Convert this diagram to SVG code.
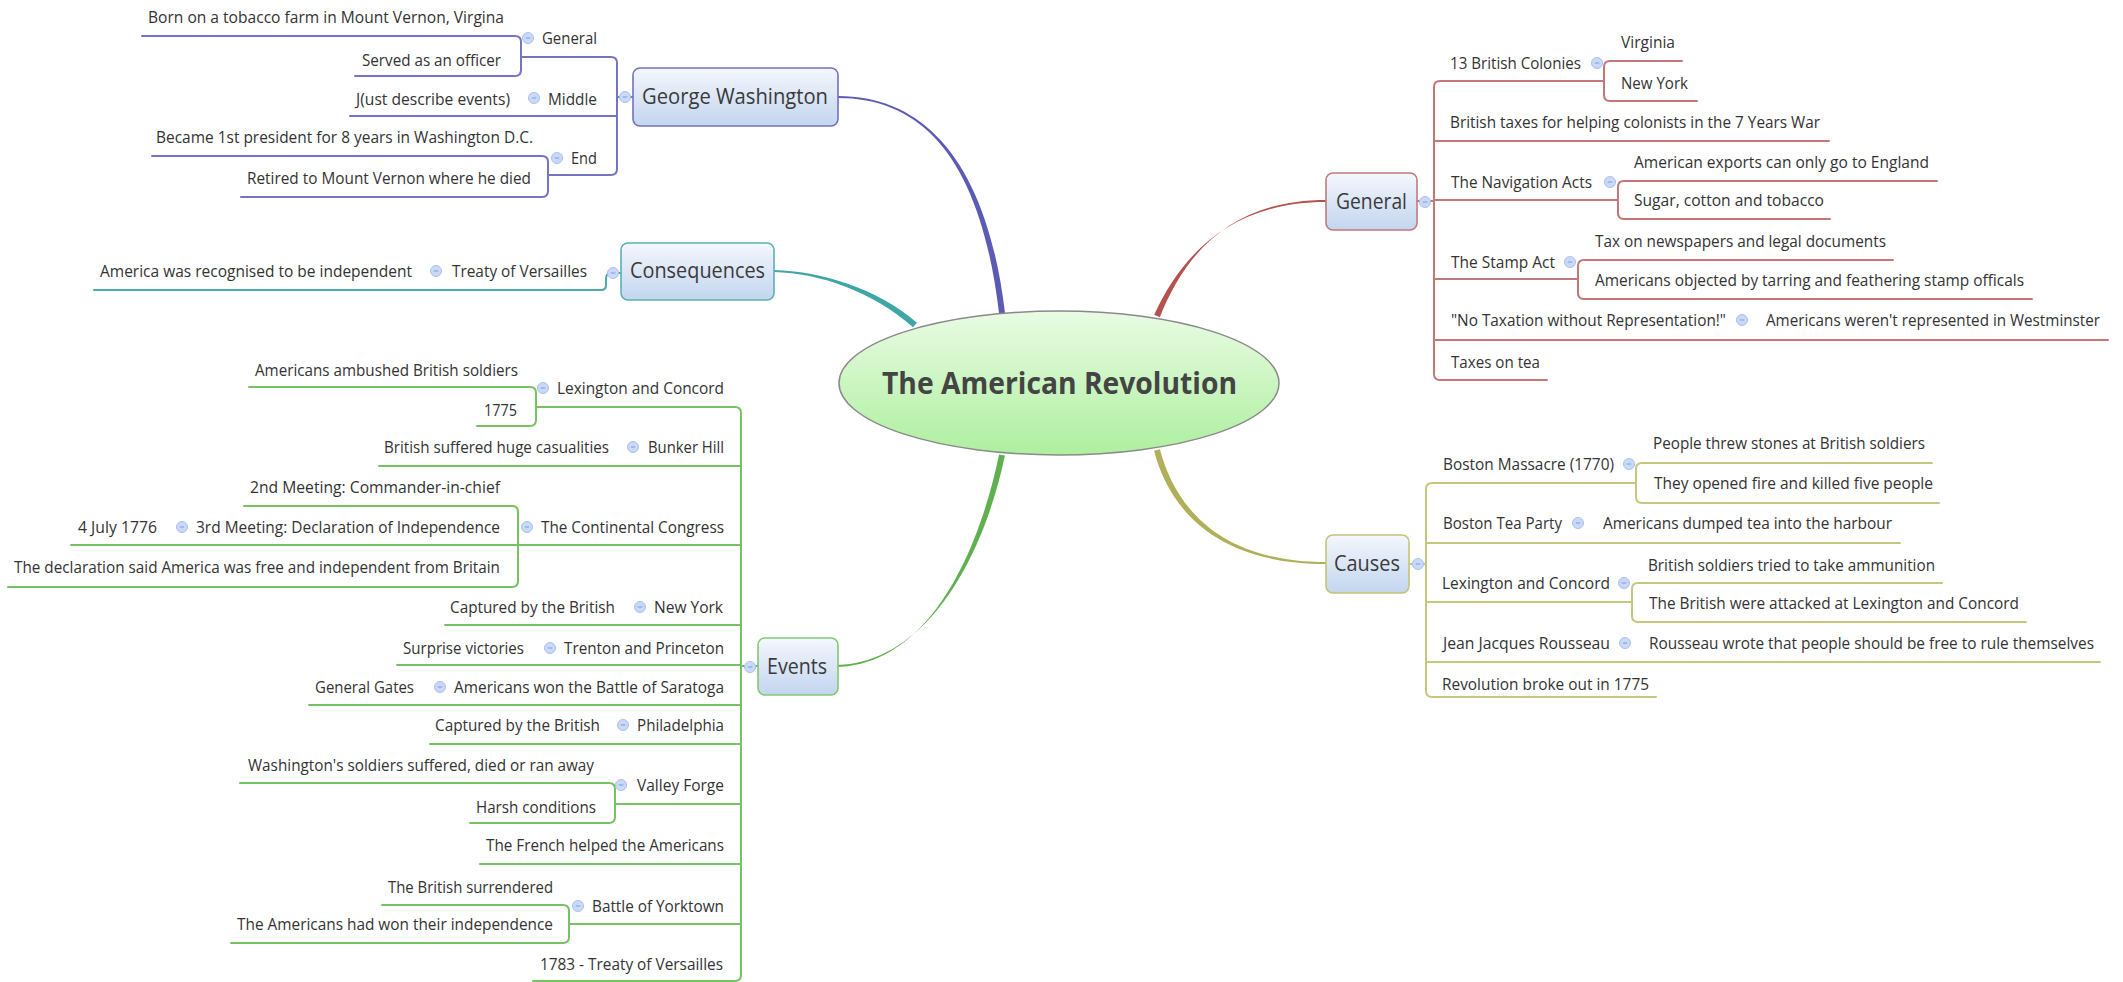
<svg xmlns="http://www.w3.org/2000/svg" width="2123" height="982" viewBox="0 0 2123 982">
<defs>
  <linearGradient id="boxFill" x1="0" y1="0" x2="0" y2="1">
    <stop offset="0" stop-color="#f4f7fd"/>
    <stop offset="1" stop-color="#c3d5ef"/>
  </linearGradient>
  <linearGradient id="rootFill" x1="0" y1="0" x2="0" y2="1">
    <stop offset="0" stop-color="#e9fbe4"/>
    <stop offset="1" stop-color="#aeef9f"/>
  </linearGradient>
  <style>
    .t{font-family:"Open Sans","Liberation Sans",sans-serif;font-size:15.5px;fill:#333}
    .bl{font-family:"Open Sans","Liberation Sans",sans-serif;font-size:21px;fill:#3a3a3a}
    .root{font-family:"Open Sans","Liberation Sans",sans-serif;font-size:31px;font-weight:bold;fill:#444}
    .box{fill:url(#boxFill);stroke-width:1.6}
    .c{fill:#c9d9f7;stroke:#a9c1ee;stroke-width:1}
    .cm{stroke:#8aa6da;stroke-width:1.2}
    .ln{fill:none;stroke-width:2;stroke-linecap:round;stroke-linejoin:round}
    .pu{stroke:#7474c2}
    .tl{stroke:#4aabab}
    .gr{stroke:#76c263}
    .rd{stroke:#c47777}
    .ol{stroke:#c6c67e}
  </style>
  <g id="fold">
    <circle class="c" r="5.5"/>
    <line class="cm" x1="-2.2" y1="0" x2="2.2" y2="0"/>
  </g>
</defs>
<rect width="2123" height="982" fill="#ffffff"/>

<!-- branch lines and curves -->
<g id="connectors">
  <!-- main curves from the central topic -->
  <path d="M838,96 C930,96 988,170 1005,313 L999,313 C982,170 930,98 838,98 Z" fill="#5b5bb5"/>
  <path d="M774,270 C820,271 877,288 917,322.8 L913,327.2 C873,292 820,273 774,272 Z" fill="#3fa6a6"/>
  <path d="M834,665 C925,665 983,560 1004.9,455.6 L999.1,454.4 C977,560 925,667 834,667 Z" fill="#5fb04e"/>
  <path d="M1326,200 C1235,200 1187,249 1159.8,317.2 L1154.2,314.8 C1183,251 1235,202 1326,202 Z" fill="#b5524f"/>
  <path d="M1159.9,449.2 C1173,499 1212,562 1326,562 L1326,564 C1208,564 1167,501 1154.1,450.8 Z" fill="#b0b05a"/>

  <!-- George Washington -->
  <g class="ln pu">
    <path d="M633,97 H617"/>
    <path d="M521,57 H611 Q617,57 617,63 V169 Q617,175 611,175 H548"/>
    <path d="M350,116 H617"/>
    <path d="M142,36 H515 Q521,36 521,42 V70 Q521,76 515,76 H355"/>
    <path d="M152,156 H542 Q548,156 548,162 V191 Q548,197 542,197 H241"/>
  </g>

  <!-- Consequences -->
  <g class="ln tl">
    <path d="M94,290 H601 Q606,290 606,285 V279 Q606,273 611,273 H621"/>
  </g>

  <!-- Events -->
  <g class="ln gr">
    <path d="M758,666 H741"/>
    <path d="M536,407 H735 Q741,407 741,413 V975 Q741,981 735,981 H533"/>
    <path d="M249,387 H530 Q536,387 536,393 V420 Q536,426 530,426 H477"/>
    <path d="M379,466 H741"/>
    <path d="M244,506 H512 Q518,506 518,512 V581 Q518,587 512,587 H8"/>
    <path d="M71,545 H741"/>
    <path d="M445,625 H741"/>
    <path d="M397,665 H741"/>
    <path d="M309,705 H741"/>
    <path d="M430,744 H741"/>
    <path d="M615,804 H741"/>
    <path d="M240,783 H609 Q615,783 615,789 V817 Q615,823 609,823 H470"/>
    <path d="M480,864 H741"/>
    <path d="M569,924 H741"/>
    <path d="M382,905 H563 Q569,905 569,911 V937 Q569,943 563,943 H231"/>
  </g>

  <!-- General -->
  <g class="ln rd">
    <path d="M1417,201 H1434"/>
    <path d="M1604,81 H1440 Q1434,81 1434,87 V374 Q1434,380 1440,380 H1547"/>
    <path d="M1682,61 H1610 Q1604,61 1604,67 V95 Q1604,101 1610,101 H1697"/>
    <path d="M1434,141 H1829"/>
    <path d="M1434,200 H1618"/>
    <path d="M1937,181 H1624 Q1618,181 1618,187 V213 Q1618,219 1624,219 H1830"/>
    <path d="M1434,279 H1578"/>
    <path d="M1893,260 H1584 Q1578,260 1578,266 V293 Q1578,299 1584,299 H2032"/>
    <path d="M1434,340 H2108"/>
  </g>

  <!-- Causes -->
  <g class="ln ol">
    <path d="M1409,564 H1426"/>
    <path d="M1636,483 H1432 Q1426,483 1426,489 V691 Q1426,697 1432,697 H1656"/>
    <path d="M1932,463 H1642 Q1636,463 1636,469 V497 Q1636,503 1642,503 H1939"/>
    <path d="M1426,543 H1900"/>
    <path d="M1426,602 H1632"/>
    <path d="M1942,583 H1638 Q1632,583 1632,589 V616 Q1632,622 1638,622 H2026"/>
    <path d="M1426,662 H2100"/>
  </g>
</g>

<!-- central topic -->
<g id="root">
  <ellipse cx="1059" cy="383" rx="220" ry="72" fill="url(#rootFill)" stroke="#8a8a8a" stroke-width="1.5"/>
  <text class="root" x="882" y="394" textLength="355" lengthAdjust="spacingAndGlyphs">The American Revolution</text>
</g>

<!-- George Washington branch -->
<g id="george-washington">
  <rect class="box" x="633" y="68" width="205" height="58" rx="7" stroke="#7272c0"/>
  <text class="bl" x="642" y="104" textLength="186" lengthAdjust="spacingAndGlyphs">George Washington</text>
  <use href="#fold" x="625" y="97"/>
</g>
<g id="gw-general">
  <text class="t" x="542" y="44" textLength="55" lengthAdjust="spacingAndGlyphs">General</text>
  <use href="#fold" x="528" y="38"/>
</g>
<g id="gw-born"><text class="t" x="148" y="23" textLength="356" lengthAdjust="spacingAndGlyphs">Born on a tobacco farm in Mount Vernon, Virgina</text></g>
<g id="gw-officer"><text class="t" x="362" y="66" textLength="139" lengthAdjust="spacingAndGlyphs">Served as an officer</text></g>
<g id="gw-middle">
  <text class="t" x="548" y="105" textLength="49" lengthAdjust="spacingAndGlyphs">Middle</text>
  <use href="#fold" x="534" y="98"/>
</g>
<g id="gw-events"><text class="t" x="356" y="105" textLength="154" lengthAdjust="spacingAndGlyphs">J(ust describe events)</text></g>
<g id="gw-end">
  <text class="t" x="571" y="164" textLength="26" lengthAdjust="spacingAndGlyphs">End</text>
  <use href="#fold" x="557" y="158"/>
</g>
<g id="gw-president"><text class="t" x="156" y="143" textLength="377" lengthAdjust="spacingAndGlyphs">Became 1st president for 8 years in Washington D.C.</text></g>
<g id="gw-retired"><text class="t" x="247" y="184" textLength="284" lengthAdjust="spacingAndGlyphs">Retired to Mount Vernon where he died</text></g>

<!-- Consequences branch -->
<g id="consequences">
  <rect class="box" x="621" y="243" width="153" height="57" rx="7" stroke="#5cb1b1"/>
  <text class="bl" x="630" y="278" textLength="135" lengthAdjust="spacingAndGlyphs">Consequences</text>
  <use href="#fold" x="613" y="273"/>
</g>
<g id="cons-treaty">
  <text class="t" x="452" y="277" textLength="135" lengthAdjust="spacingAndGlyphs">Treaty of Versailles</text>
  <use href="#fold" x="436" y="271"/>
</g>
<g id="cons-independent"><text class="t" x="100" y="277" textLength="312" lengthAdjust="spacingAndGlyphs">America was recognised to be independent</text></g>

<!-- Events branch -->
<g id="events">
  <rect class="box" x="758" y="638" width="80" height="57" rx="7" stroke="#82c972"/>
  <text class="bl" x="767" y="674" textLength="60" lengthAdjust="spacingAndGlyphs">Events</text>
  <use href="#fold" x="750" y="667"/>
</g>
<g id="ev-lexington">
  <text class="t" x="557" y="394" textLength="167" lengthAdjust="spacingAndGlyphs">Lexington and Concord</text>
  <use href="#fold" x="543" y="388"/>
</g>
<g id="ev-ambushed"><text class="t" x="255" y="376" textLength="263" lengthAdjust="spacingAndGlyphs">Americans ambushed British soldiers</text></g>
<g id="ev-1775"><text class="t" x="484" y="416" textLength="33" lengthAdjust="spacingAndGlyphs">1775</text></g>
<g id="ev-bunker">
  <text class="t" x="648" y="453" textLength="76" lengthAdjust="spacingAndGlyphs">Bunker Hill</text>
  <use href="#fold" x="633" y="447"/>
</g>
<g id="ev-casualities"><text class="t" x="384" y="453" textLength="225" lengthAdjust="spacingAndGlyphs">British suffered huge casualities</text></g>
<g id="ev-congress">
  <text class="t" x="541" y="533" textLength="183" lengthAdjust="spacingAndGlyphs">The Continental Congress</text>
  <use href="#fold" x="527" y="527"/>
</g>
<g id="ev-2nd"><text class="t" x="250" y="493" textLength="250" lengthAdjust="spacingAndGlyphs">2nd Meeting: Commander-in-chief</text></g>
<g id="ev-3rd">
  <text class="t" x="196" y="533" textLength="304" lengthAdjust="spacingAndGlyphs">3rd Meeting: Declaration of Independence</text>
  <use href="#fold" x="182" y="527"/>
</g>
<g id="ev-july"><text class="t" x="78" y="533" textLength="79" lengthAdjust="spacingAndGlyphs">4 July 1776</text></g>
<g id="ev-declaration"><text class="t" x="14" y="573" textLength="486" lengthAdjust="spacingAndGlyphs">The declaration said America was free and independent from Britain</text></g>
<g id="ev-newyork">
  <text class="t" x="654" y="613" textLength="69" lengthAdjust="spacingAndGlyphs">New York</text>
  <use href="#fold" x="640" y="607"/>
</g>
<g id="ev-captured-ny"><text class="t" x="450" y="613" textLength="165" lengthAdjust="spacingAndGlyphs">Captured by the British</text></g>
<g id="ev-trenton">
  <text class="t" x="564" y="654" textLength="160" lengthAdjust="spacingAndGlyphs">Trenton and Princeton</text>
  <use href="#fold" x="550" y="648"/>
</g>
<g id="ev-surprise"><text class="t" x="403" y="654" textLength="121" lengthAdjust="spacingAndGlyphs">Surprise victories</text></g>
<g id="ev-saratoga">
  <text class="t" x="454" y="693" textLength="270" lengthAdjust="spacingAndGlyphs">Americans won the Battle of Saratoga</text>
  <use href="#fold" x="440" y="687"/>
</g>
<g id="ev-gates"><text class="t" x="315" y="693" textLength="99" lengthAdjust="spacingAndGlyphs">General Gates</text></g>
<g id="ev-philadelphia">
  <text class="t" x="637" y="731" textLength="87" lengthAdjust="spacingAndGlyphs">Philadelphia</text>
  <use href="#fold" x="623" y="725"/>
</g>
<g id="ev-captured-ph"><text class="t" x="435" y="731" textLength="165" lengthAdjust="spacingAndGlyphs">Captured by the British</text></g>
<g id="ev-valley">
  <text class="t" x="637" y="791" textLength="87" lengthAdjust="spacingAndGlyphs">Valley Forge</text>
  <use href="#fold" x="621" y="785"/>
</g>
<g id="ev-suffered"><text class="t" x="248" y="771" textLength="346" lengthAdjust="spacingAndGlyphs">Washington's soldiers suffered, died or ran away</text></g>
<g id="ev-harsh"><text class="t" x="476" y="813" textLength="120" lengthAdjust="spacingAndGlyphs">Harsh conditions</text></g>
<g id="ev-french"><text class="t" x="486" y="851" textLength="238" lengthAdjust="spacingAndGlyphs">The French helped the Americans</text></g>
<g id="ev-yorktown">
  <text class="t" x="592" y="912" textLength="132" lengthAdjust="spacingAndGlyphs">Battle of Yorktown</text>
  <use href="#fold" x="578" y="906"/>
</g>
<g id="ev-surrendered"><text class="t" x="388" y="893" textLength="165" lengthAdjust="spacingAndGlyphs">The British surrendered</text></g>
<g id="ev-won"><text class="t" x="237" y="930" textLength="316" lengthAdjust="spacingAndGlyphs">The Americans had won their independence</text></g>
<g id="ev-1783"><text class="t" x="540" y="970" textLength="183" lengthAdjust="spacingAndGlyphs">1783 - Treaty of Versailles</text></g>

<!-- General branch -->
<g id="general">
  <rect class="box" x="1326" y="173" width="91" height="57" rx="7" stroke="#c27a7a"/>
  <text class="bl" x="1336" y="209" textLength="71" lengthAdjust="spacingAndGlyphs">General</text>
  <use href="#fold" x="1425" y="202"/>
</g>
<g id="gen-colonies">
  <text class="t" x="1450" y="69" textLength="131" lengthAdjust="spacingAndGlyphs">13 British Colonies</text>
  <use href="#fold" x="1597" y="63"/>
</g>
<g id="gen-virginia"><text class="t" x="1621" y="48" textLength="54" lengthAdjust="spacingAndGlyphs">Virginia</text></g>
<g id="gen-newyork"><text class="t" x="1621" y="89" textLength="67" lengthAdjust="spacingAndGlyphs">New York</text></g>
<g id="gen-taxes"><text class="t" x="1450" y="128" textLength="370" lengthAdjust="spacingAndGlyphs">British taxes for helping colonists in the 7 Years War</text></g>
<g id="gen-navigation">
  <text class="t" x="1451" y="188" textLength="141" lengthAdjust="spacingAndGlyphs">The Navigation Acts</text>
  <use href="#fold" x="1610" y="182"/>
</g>
<g id="gen-exports"><text class="t" x="1634" y="168" textLength="295" lengthAdjust="spacingAndGlyphs">American exports can only go to England</text></g>
<g id="gen-sugar"><text class="t" x="1634" y="206" textLength="190" lengthAdjust="spacingAndGlyphs">Sugar, cotton and tobacco</text></g>
<g id="gen-stamp">
  <text class="t" x="1451" y="268" textLength="104" lengthAdjust="spacingAndGlyphs">The Stamp Act</text>
  <use href="#fold" x="1570" y="262"/>
</g>
<g id="gen-newspapers"><text class="t" x="1595" y="247" textLength="291" lengthAdjust="spacingAndGlyphs">Tax on newspapers and legal documents</text></g>
<g id="gen-tarring"><text class="t" x="1595" y="286" textLength="429" lengthAdjust="spacingAndGlyphs">Americans objected by tarring and feathering stamp officals</text></g>
<g id="gen-notaxation">
  <text class="t" x="1451" y="326" textLength="275" lengthAdjust="spacingAndGlyphs">"No Taxation without Representation!"</text>
  <use href="#fold" x="1742" y="320"/>
</g>
<g id="gen-westminster"><text class="t" x="1766" y="326" textLength="334" lengthAdjust="spacingAndGlyphs">Americans weren't represented in Westminster</text></g>
<g id="gen-tea"><text class="t" x="1451" y="368" textLength="89" lengthAdjust="spacingAndGlyphs">Taxes on tea</text></g>

<!-- Causes branch -->
<g id="causes">
  <rect class="box" x="1326" y="535" width="83" height="58" rx="7" stroke="#c4c476"/>
  <text class="bl" x="1334" y="571" textLength="66" lengthAdjust="spacingAndGlyphs">Causes</text>
  <use href="#fold" x="1418" y="564"/>
</g>
<g id="ca-massacre">
  <text class="t" x="1443" y="470" textLength="171" lengthAdjust="spacingAndGlyphs">Boston Massacre (1770)</text>
  <use href="#fold" x="1629" y="464"/>
</g>
<g id="ca-stones"><text class="t" x="1653" y="449" textLength="272" lengthAdjust="spacingAndGlyphs">People threw stones at British soldiers</text></g>
<g id="ca-fire"><text class="t" x="1654" y="489" textLength="279" lengthAdjust="spacingAndGlyphs">They opened fire and killed five people</text></g>
<g id="ca-teaparty">
  <text class="t" x="1443" y="529" textLength="119" lengthAdjust="spacingAndGlyphs">Boston Tea Party</text>
  <use href="#fold" x="1578" y="523"/>
</g>
<g id="ca-dumped"><text class="t" x="1603" y="529" textLength="289" lengthAdjust="spacingAndGlyphs">Americans dumped tea into the harbour</text></g>
<g id="ca-lexington">
  <text class="t" x="1442" y="589" textLength="168" lengthAdjust="spacingAndGlyphs">Lexington and Concord</text>
  <use href="#fold" x="1624" y="583"/>
</g>
<g id="ca-ammunition"><text class="t" x="1648" y="571" textLength="287" lengthAdjust="spacingAndGlyphs">British soldiers tried to take ammunition</text></g>
<g id="ca-attacked"><text class="t" x="1649" y="609" textLength="370" lengthAdjust="spacingAndGlyphs">The British were attacked at Lexington and Concord</text></g>
<g id="ca-rousseau">
  <text class="t" x="1443" y="649" textLength="167" lengthAdjust="spacingAndGlyphs">Jean Jacques Rousseau</text>
  <use href="#fold" x="1625" y="643"/>
</g>
<g id="ca-free"><text class="t" x="1649" y="649" textLength="445" lengthAdjust="spacingAndGlyphs">Rousseau wrote that people should be free to rule themselves</text></g>
<g id="ca-revolution"><text class="t" x="1442" y="690" textLength="207" lengthAdjust="spacingAndGlyphs">Revolution broke out in 1775</text></g>
</svg>
